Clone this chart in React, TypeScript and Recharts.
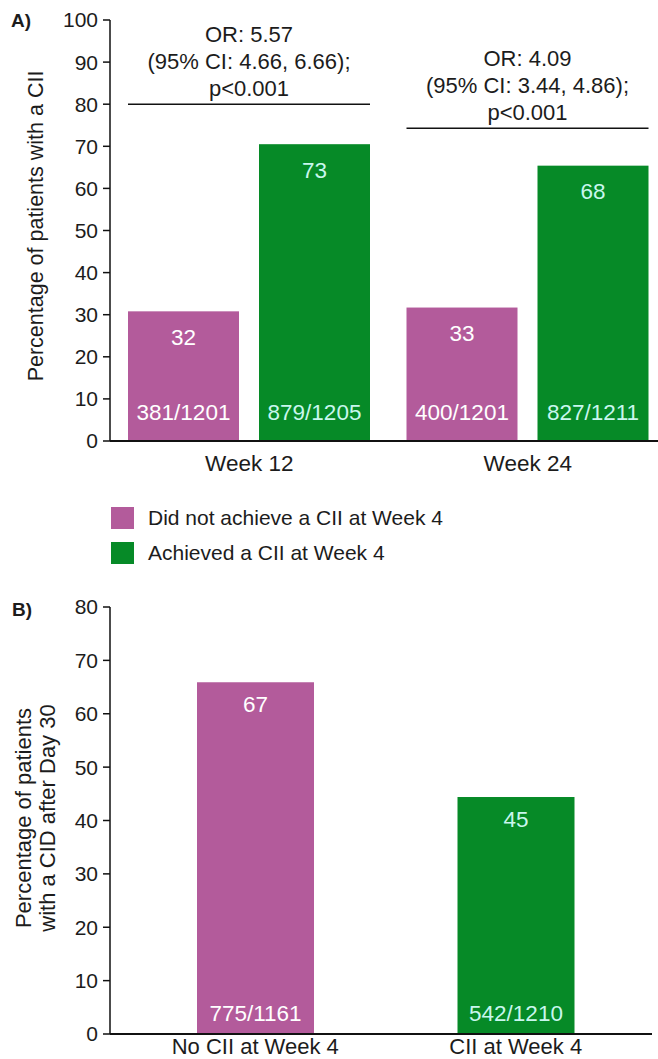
import { Bar, BarChart, Cell, XAxis, YAxis } from "recharts";

const PURPLE = "#b35b9b";
const GREEN = "#068a27";
const INK = "#1c1c1c";
const ON_PURPLE = "#ffffff";
const ON_GREEN = "#c9f7ee";
const FONT = "'Liberation Sans', Arial, sans-serif";

// panel A
const weeks = ["Week 12", "Week 24"];
const noCiiAtWeek4 = [30.8, 31.7];
const ciiAtWeek4 = [70.5, 65.4];
const noCiiPctLabels = ["32", "33"];
const ciiPctLabels = ["73", "68"];
const noCiiCounts = ["381/1201", "400/1201"];
const ciiCounts = ["879/1205", "827/1211"];
const orTexts = ["OR: 5.57", "OR: 4.09"];
const ciTexts = ["(95% CI: 4.66, 6.66);", "(95% CI: 3.44, 4.86);"];
const pTexts = ["p<0.001", "p<0.001"];
const bracketAt = [80, 74.3];
const ticksA = [0, 10, 20, 30, 40, 50, 60, 70, 80, 90, 100];

// panel B
const groupsB = ["No CII at Week 4", "CII at Week 4"];
const cidAfterDay30 = [65.9, 44.4];
const cidPctLabels = ["67", "45"];
const cidCounts = ["775/1161", "542/1210"];
const colorsB = [PURPLE, GREEN];
const ticksB = [0, 10, 20, 30, 40, 50, 60, 70, 80];

const legendItems = [
  { label: "Did not achieve a CII at Week 4", color: PURPLE },
  { label: "Achieved a CII at Week 4", color: GREEN },
];

const GAP_A = 20;
const LABEL_SIZE = 22.5;

const rowsA = weeks.map((week, i) => ({
  week,
  noCii: noCiiAtWeek4[i],
  cii: ciiAtWeek4[i],
  noCiiPct: noCiiPctLabels[i],
  ciiPct: ciiPctLabels[i],
  noCiiN: noCiiCounts[i],
  ciiN: ciiCounts[i],
  or: orTexts[i],
  ci: ciTexts[i],
  p: pTexts[i],
  bracket: bracketAt[i],
}));

const rowsB = groupsB.map((group, i) => ({
  group,
  value: cidAfterDay30[i],
  pct: cidPctLabels[i],
  n: cidCounts[i],
}));

const BarWithText = (props: any) => {
  const { x, y, width, height, fill, pct, n, textFill, topGap, bottomGap, children } = props;
  const cx = x + width / 2;
  return (
    <g>
      <rect x={x} y={y} width={width} height={height} fill={fill} />
      <text x={cx} y={y + topGap} textAnchor="middle" dominantBaseline="central" fontSize={LABEL_SIZE} fill={textFill}>
        {pct}
      </text>
      <text x={cx} y={y + height - bottomGap} textAnchor="middle" dominantBaseline="central" fontSize={LABEL_SIZE} fill={textFill}>
        {n}
      </text>
      {children}
    </g>
  );
};

const NoCiiShape = (props: any) => {
  const { x, y, width, height, payload } = props;
  const base = y + height;
  const lineY = base - (payload.bracket * height) / payload.noCii;
  const x2 = x + width * 2 + GAP_A;
  const mid = (x + x2) / 2;
  return (
    <BarWithText {...props} fill={PURPLE} pct={payload.noCiiPct} n={payload.noCiiN} textFill={ON_PURPLE} topGap={26} bottomGap={29}>
      <line x1={x} x2={x2} y1={lineY} y2={lineY} stroke="#111" strokeWidth={1.6} />
      <text x={mid} y={lineY - 70} textAnchor="middle" dominantBaseline="central" fontSize={22} fill={INK}>
        {payload.or}
      </text>
      <text x={mid} y={lineY - 43} textAnchor="middle" dominantBaseline="central" fontSize={22} fill={INK}>
        {payload.ci}
      </text>
      <text x={mid} y={lineY - 16} textAnchor="middle" dominantBaseline="central" fontSize={22} fill={INK}>
        {payload.p}
      </text>
    </BarWithText>
  );
};

const CiiShape = (props: any) => (
  <BarWithText {...props} fill={GREEN} pct={props.payload.ciiPct} n={props.payload.ciiN} textFill={ON_GREEN} topGap={26} bottomGap={29} />
);

const ShapeB = (props: any) => {
  const i = props.index ?? 0;
  return (
    <BarWithText
      {...props}
      fill={colorsB[i]}
      pct={props.payload.pct}
      n={props.payload.n}
      textFill={i === 0 ? ON_PURPLE : ON_GREEN}
      topGap={22}
      bottomGap={21}
    />
  );
};

const tickStyle = { fill: INK, fontSize: 21 };
const catTickStyle = { fill: INK, fontSize: 22.5 };
const catTickStyleB = { fill: INK, fontSize: 22 };

const PanelA = () => (
  <BarChart
    width={658}
    height={490}
    data={rowsA}
    margin={{ top: 20, right: -9, bottom: 9, left: 50 }}
    barGap={GAP_A}
    barSize={111}
    style={{ overflow: "hidden" }}
  >
    <XAxis
      dataKey="week"
      interval={0}
      height={40}
      tickLine={false}
      tickSize={0}
      tickMargin={14}
      tick={catTickStyle}
      axisLine={{ stroke: "#111", strokeWidth: 2 }}
    />
    <YAxis
      domain={[0, 100]}
      ticks={ticksA}
      interval={0}
      width={60}
      tickSize={7}
      tickMargin={5}
      tick={tickStyle}
      axisLine={{ stroke: "#111", strokeWidth: 1.5 }}
      tickLine={{ stroke: "#111", strokeWidth: 1.5 }}
      label={{
        content: () => (
          <text x={36} y={226} transform="rotate(-90 36 226)" textAnchor="middle" dominantBaseline="central" fontSize={21.5} fill={INK}>
            Percentage of patients with a CII
          </text>
        ),
      }}
    />
    <Bar dataKey="noCii" fill={PURPLE} isAnimationActive={false} shape={NoCiiShape} />
    <Bar dataKey="cii" fill={GREEN} isAnimationActive={false} shape={CiiShape} />
  </BarChart>
);

const PanelB = () => (
  <BarChart width={658} height={479} data={rowsB} margin={{ top: 27, right: 6, bottom: 0, left: 50 }} barSize={117}>
    <XAxis
      dataKey="group"
      interval={0}
      height={25}
      padding={{ left: 15, right: 6 }}
      tickLine={false}
      tickSize={0}
      tickMargin={4}
      tick={catTickStyleB}
      axisLine={{ stroke: "#111", strokeWidth: 2 }}
    />
    <YAxis
      domain={[0, 80]}
      ticks={ticksB}
      interval={0}
      width={60}
      tickSize={7}
      tickMargin={5}
      tick={tickStyle}
      axisLine={{ stroke: "#111", strokeWidth: 1.5 }}
      tickLine={{ stroke: "#111", strokeWidth: 1.5 }}
      label={{
        content: () => (
          <text transform="rotate(-90 35 238)" x={35} y={238} textAnchor="middle" fontSize={22} fill={INK}>
            <tspan x={35} dy={-4}>Percentage of patients</tspan>
            <tspan x={35} dy={24}>with a CID after Day 30</tspan>
          </text>
        ),
      }}
    />
    <Bar dataKey="value" isAnimationActive={false} shape={ShapeB}>
      {rowsB.map((r, i) => (
        <Cell key={r.group} fill={colorsB[i]} />
      ))}
    </Bar>
  </BarChart>
);

export default function App() {
  return (
    <div style={{ position: "absolute", left: 0, top: 0, width: 658, height: 1059, background: "#fff", fontFamily: FONT, color: INK }}>
      <div style={{ position: "absolute", left: 0, top: 0 }}>
        <PanelA />
      </div>
      <div style={{ position: "absolute", left: 11, top: 10, fontSize: 19, fontWeight: 700 }}>A)</div>
      {legendItems.map((item, i) => (
        <div key={item.label} style={{ position: "absolute", left: 111, top: 507 + i * 35, height: 22, display: "flex", alignItems: "center" }}>
          <div style={{ width: 23, height: 22, background: item.color }} />
          <span style={{ marginLeft: 14, fontSize: 21, lineHeight: "22px" }}>{item.label}</span>
        </div>
      ))}
      <div style={{ position: "absolute", left: 0, top: 580 }}>
        <PanelB />
      </div>
      <div style={{ position: "absolute", left: 12, top: 599, fontSize: 19, fontWeight: 700 }}>B)</div>
    </div>
  );
}
